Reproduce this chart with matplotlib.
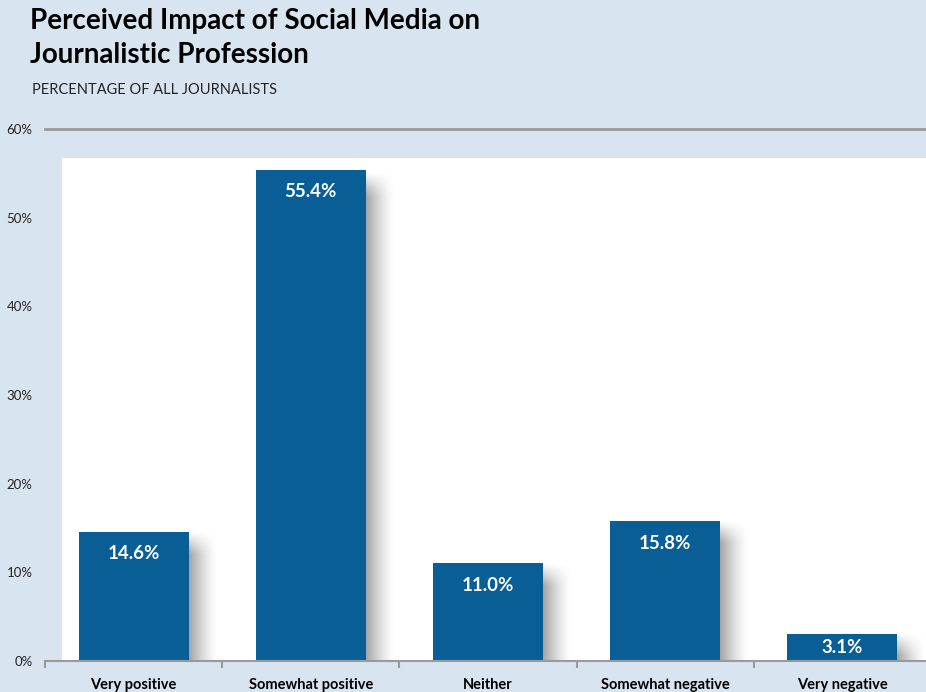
import numpy as np
import matplotlib.pyplot as plt
from matplotlib.patches import Rectangle

categories = ["Very positive", "Somewhat positive", "Neither",
              "Somewhat negative", "Very negative"]
values = [14.6, 55.4, 11.0, 15.8, 3.1]
yticks = [0, 10, 20, 30, 40, 50, 60]

bg = "#d8e5f0"
bar_color = "#085e95"
line_gray = "#9a9a9a"

plt.rcParams["font.family"] = ["Lato", "DejaVu Sans"]

W, H = 926, 692
fig = plt.figure(figsize=(W / 100, H / 100), dpi=100, facecolor=bg)

# axes: x runs 0..5 (one unit per category), y 0..60
ax = fig.add_axes([45 / W, (H - 661) / H, 886 / W, (661 - 129) / H])
ax.set_facecolor("none")
ax.set_xlim(0, 5)
ax.set_ylim(0, 60)

# white plotting panel
ax.add_patch(Rectangle((17 / 177.25, 0), 5, 60 * (661 - 158) / 532,
                       facecolor="white", edgecolor="none", zorder=0))

x = np.arange(len(categories)) + 0.5
width = 0.62

# soft drop shadow to the right of each bar
sw = 0.16
for xi, v in zip(x, values):
    nx, ny = 40, 60
    hx = np.linspace(1, 0, nx) ** 1.4
    top_fade = np.clip((v - np.linspace(v, 0, ny)) / 2.5, 0, 1)
    alpha = 0.55 * np.outer(top_fade, hx)
    img = np.zeros((ny, nx, 4))
    img[..., :3] = 0.35
    img[..., 3] = alpha
    ax.imshow(img, extent=(xi + width / 2, xi + width / 2 + sw, 0, v),
              aspect="auto", zorder=1, interpolation="bilinear")

ax.bar(x, values, width=width, color=bar_color, zorder=2)
ax.set_xlim(0, 5)
ax.set_ylim(0, 60)

for xi, v in zip(x, values):
    ly = max(v - 2.5, v / 2)
    ax.text(xi, ly, f"{v:.1f}%", ha="center", va="center", color="white",
            fontsize=13.5, fontweight="bold", zorder=3)

# 60% reference line
ax.axhline(60, color=line_gray, lw=2, clip_on=False, zorder=1)

for s in ["top", "right", "left"]:
    ax.spines[s].set_visible(False)
ax.spines["bottom"].set_color(line_gray)
ax.spines["bottom"].set_linewidth(1.5)

ax.set_yticks(yticks)
ax.set_yticklabels([f"{t}%" for t in yticks], fontsize=9.5, color="#222222")
ax.tick_params(axis="y", length=0, pad=9)

ax.set_xticks(x)
ax.set_xticklabels(categories, fontsize=10.5, fontweight="bold")
ax.tick_params(axis="x", which="major", length=0, pad=12)
ax.set_xticks(np.arange(0, 6), minor=True)
ax.tick_params(axis="x", which="minor", length=5, width=1.5, color=line_gray)

fig.text(30 / W, 1 - 8 / H, "Perceived Impact of Social Media on\nJournalistic Profession",
         ha="left", va="top", fontsize=20, fontweight="bold", linespacing=1.4)
fig.text(32 / W, 1 - 90 / H, "PERCENTAGE OF ALL JOURNALISTS", ha="left",
         va="center", fontsize=10.5, color="#222222")

fig.savefig("out.png", dpi=100, facecolor=bg)
